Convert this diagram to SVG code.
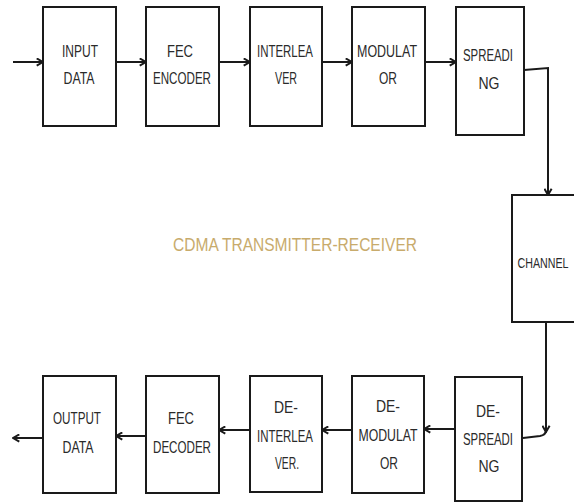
<svg xmlns="http://www.w3.org/2000/svg" width="574" height="502" viewBox="0 0 574 502">
<style>
.box{fill:#fff;stroke:#1a1a1a;stroke-width:2}
.lbl{font-family:"Liberation Sans",Arial,sans-serif;font-size:16px;fill:#2a2a2a;text-anchor:middle}
.con{fill:none;stroke:#1a1a1a;stroke-width:2}
.title{font-family:"Liberation Sans",Arial,sans-serif;font-size:18px;fill:#c8ab6c}
</style>
<defs>
<marker id="ah" viewBox="0 0 10 10" refX="9" refY="5" markerWidth="9" markerHeight="9" orient="auto" markerUnits="userSpaceOnUse">
<path d="M2,1 L9,5 L2,9" fill="none" stroke="#1a1a1a" stroke-width="2.2"/>
</marker>
</defs>
<rect width="574" height="502" fill="#fff"/>
<g id="connectors">
<path class="con" d="M13,62 H43" marker-end="url(#ah)"/>
<path class="con" d="M116,62 H146" marker-end="url(#ah)"/>
<path class="con" d="M219,62 H250" marker-end="url(#ah)"/>
<path class="con" d="M322,62 H352" marker-end="url(#ah)"/>
<path class="con" d="M425,62 H456" marker-end="url(#ah)"/>
<path class="con" d="M524,70 L548,68 V195" marker-end="url(#ah)"/>
<path class="con" d="M546,322 V432" marker-end="url(#ah)"/>
<path class="con" d="M523,438 L540,436 Q546,435 546,430"/>
<path class="con" d="M455,429 H424" marker-end="url(#ah)"/>
<path class="con" d="M352,430 H322" marker-end="url(#ah)"/>
<path class="con" d="M250,430 H219" marker-end="url(#ah)"/>
<path class="con" d="M146,436 H116" marker-end="url(#ah)"/>
<path class="con" d="M43,438 H13" marker-end="url(#ah)"/>
</g>
<g id="input-data">
<rect class="box" x="43" y="7" width="73" height="119"/>
<text class="lbl" x="80" y="57" textLength="36" lengthAdjust="spacingAndGlyphs">INPUT</text>
<text class="lbl" x="79" y="84" textLength="31" lengthAdjust="spacingAndGlyphs">DATA</text>
</g>
<g id="fec-encoder">
<rect class="box" x="146" y="7" width="73" height="119"/>
<text class="lbl" x="180" y="57" textLength="26" lengthAdjust="spacingAndGlyphs">FEC</text>
<text class="lbl" x="182" y="84" textLength="58" lengthAdjust="spacingAndGlyphs">ENCODER</text>
</g>
<g id="interleaver">
<rect class="box" x="250" y="7" width="72" height="119"/>
<text class="lbl" x="285" y="57" textLength="56" lengthAdjust="spacingAndGlyphs">INTERLEA</text>
<text class="lbl" x="286" y="84" textLength="22" lengthAdjust="spacingAndGlyphs">VER</text>
</g>
<g id="modulator">
<rect class="box" x="352" y="7" width="73" height="119"/>
<text class="lbl" x="387" y="57" textLength="60" lengthAdjust="spacingAndGlyphs">MODULAT</text>
<text class="lbl" x="388" y="84" textLength="18" lengthAdjust="spacingAndGlyphs">OR</text>
</g>
<g id="spreading">
<rect class="box" x="456" y="7" width="68" height="128"/>
<text class="lbl" x="488" y="61" textLength="50" lengthAdjust="spacingAndGlyphs">SPREADI</text>
<text class="lbl" x="489" y="89" textLength="21" lengthAdjust="spacingAndGlyphs">NG</text>
</g>
<g id="channel">
<rect class="box" x="512" y="195" width="70" height="127"/>
<text class="lbl" x="543" y="268" style="font-size:15px" textLength="51" lengthAdjust="spacingAndGlyphs">CHANNEL</text>
</g>
<g id="de-spreading">
<rect class="box" x="455" y="377" width="67" height="124"/>
<text class="lbl" x="488" y="417" textLength="24" lengthAdjust="spacingAndGlyphs">DE-</text>
<text class="lbl" x="488" y="445" textLength="50" lengthAdjust="spacingAndGlyphs">SPREADI</text>
<text class="lbl" x="489" y="472" textLength="21" lengthAdjust="spacingAndGlyphs">NG</text>
</g>
<g id="de-modulator">
<rect class="box" x="352" y="376" width="72" height="117"/>
<text class="lbl" x="388" y="412" textLength="24" lengthAdjust="spacingAndGlyphs">DE-</text>
<text class="lbl" x="388" y="441" textLength="59" lengthAdjust="spacingAndGlyphs">MODULAT</text>
<text class="lbl" x="389" y="469" textLength="18" lengthAdjust="spacingAndGlyphs">OR</text>
</g>
<g id="de-interleaver">
<rect class="box" x="250" y="376" width="72" height="116"/>
<text class="lbl" x="286" y="413" textLength="24" lengthAdjust="spacingAndGlyphs">DE-</text>
<text class="lbl" x="285" y="442" textLength="56" lengthAdjust="spacingAndGlyphs">INTERLEA</text>
<text class="lbl" x="287" y="469" textLength="24" lengthAdjust="spacingAndGlyphs">VER.</text>
</g>
<g id="fec-decoder">
<rect class="box" x="146" y="376" width="73" height="117"/>
<text class="lbl" x="181" y="424" textLength="26" lengthAdjust="spacingAndGlyphs">FEC</text>
<text class="lbl" x="182" y="453" textLength="58" lengthAdjust="spacingAndGlyphs">DECODER</text>
</g>
<g id="output-data">
<rect class="box" x="43" y="376" width="73" height="117"/>
<text class="lbl" x="77" y="424" textLength="48" lengthAdjust="spacingAndGlyphs">OUTPUT</text>
<text class="lbl" x="78" y="453" textLength="31" lengthAdjust="spacingAndGlyphs">DATA</text>
</g>
<g id="title">
<text class="title" x="173" y="251" textLength="244" lengthAdjust="spacingAndGlyphs">CDMA TRANSMITTER-RECEIVER</text>
</g>
</svg>
